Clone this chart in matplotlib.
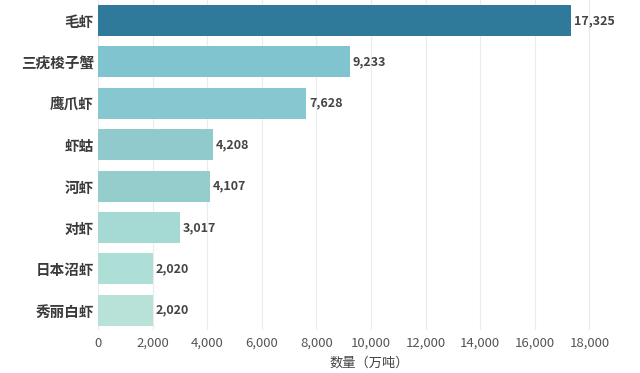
import matplotlib
matplotlib.use("Agg")
import matplotlib.pyplot as plt
from matplotlib.ticker import FuncFormatter, MultipleLocator

plt.rcParams['font.family'] = ['Noto Sans CJK SC', 'DejaVu Sans']

categories = ["毛虾", "三疣梭子蟹", "鹰爪虾", "虾蛄", "河虾", "对虾", "日本沼虾", "秀丽白虾"]
values = [17325, 9233, 7628, 4208, 4107, 3017, 2020, 2020]
colors = ["#2f7a9a", "#80c4d0", "#87c7d0", "#91cacd", "#95cccc", "#a5dad4", "#aedfd7", "#b8e2d8"]
xlabel = "数量（万吨）"

fig = plt.figure(figsize=(6.4, 3.73), dpi=100)
ax = fig.add_axes([98/640, 1 - 330/373, 1 - 98/640, 330/373])

y = list(range(len(categories)))
ax.barh(y, values, height=0.75, color=colors, zorder=3)
for yi, v in zip(y, values):
    ax.text(v + 100, yi, f"{v:,}", va="center", ha="left", fontsize=9,
            fontweight="bold", color="#444444", zorder=4)

ax.set_yticks(y)
ax.set_yticklabels(categories, fontsize=10.5, fontweight="bold", color="#3a3a3a")
ax.set_ylim(7.48, -0.496)
ax.set_xlim(0, 19850)
ax.xaxis.set_major_locator(MultipleLocator(2000))
ax.xaxis.set_major_formatter(FuncFormatter(lambda x, p: f"{int(x):,}"))
ax.tick_params(axis="x", labelsize=9.5, colors="#555555", length=0, pad=5)
ax.tick_params(axis="y", length=0, pad=3)
ax.grid(axis="x", color="#ececec", linewidth=0.8, zorder=0)
for s in ax.spines.values():
    s.set_visible(False)
ax.set_xlabel(xlabel, fontsize=9.5, color="#444444", labelpad=5)

fig.savefig("out.png", dpi=100)
